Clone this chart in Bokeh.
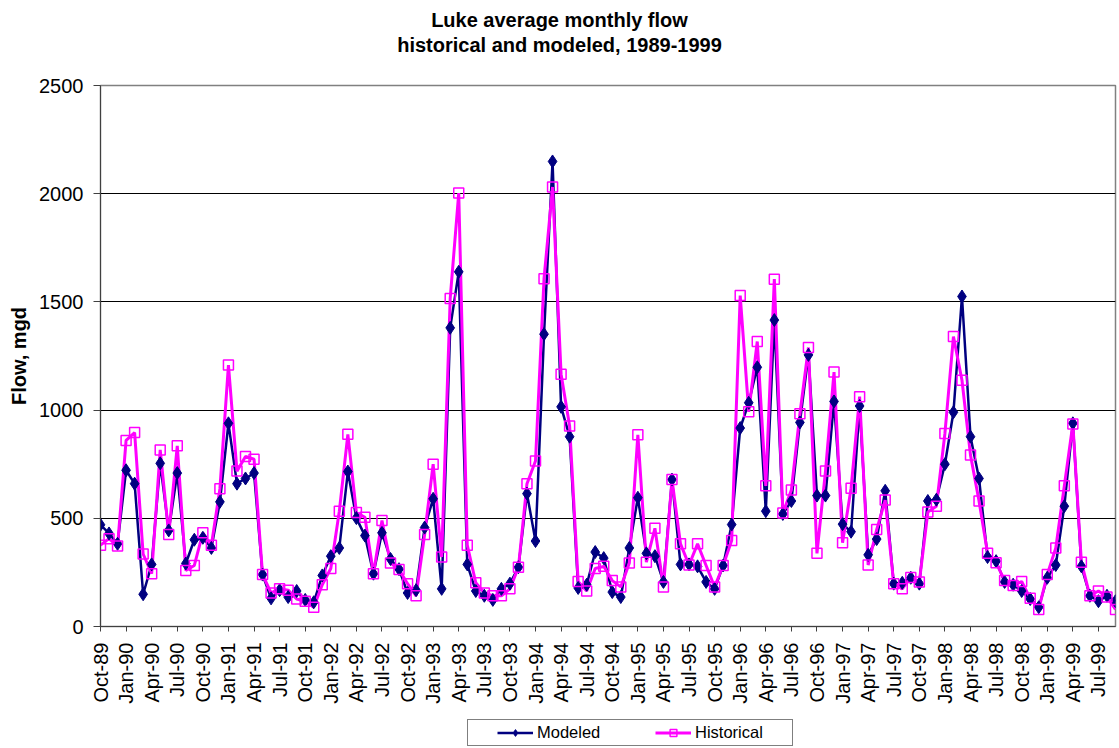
import math
from bokeh.plotting import figure
from bokeh.layouts import column
from bokeh.models import Range1d, FixedTicker, Legend, LegendItem, Label
from bokeh.embed import file_html
from bokeh.resources import INLINE

# ---- data ----
tick_labels = [
    "Oct-89", "Jan-90", "Apr-90", "Jul-90", "Oct-90", "Jan-91", "Apr-91", "Jul-91",
    "Oct-91", "Jan-92", "Apr-92", "Jul-92", "Oct-92", "Jan-93", "Apr-93", "Jul-93",
    "Oct-93", "Jan-94", "Apr-94", "Jul-94", "Oct-94", "Jan-95", "Apr-95", "Jul-95",
    "Oct-95", "Jan-96", "Apr-96", "Jul-96", "Oct-96", "Jan-97", "Apr-97", "Jul-97",
    "Oct-97", "Jan-98", "Apr-98", "Jul-98", "Oct-98", "Jan-99", "Apr-99", "Jul-99",
]

modeled = [
    470, 430, 382, 722, 660, 149, 287, 754, 444, 709, 291, 401, 410, 363, 576, 939, 660, 684,
    709, 240, 130, 168, 136, 164, 123, 112, 236, 325, 363, 716, 501, 420, 244, 433, 312, 265,
    155, 168, 457, 590, 174, 1380, 1639, 287, 164, 142, 123, 174, 198, 274, 614, 395, 1351, 2149,
    1015, 877, 178, 193, 344, 316, 159, 136, 363, 595, 338, 325, 206, 679, 287, 287, 278,
    206, 174, 282, 471, 917, 1034, 1198, 533, 1416, 520, 580, 943, 1255, 605, 605, 1040, 473, 438,
    1019, 331, 404, 627, 198, 202, 225, 198, 580, 586, 750, 990, 1525, 877, 684, 321, 302,
    206, 193, 164, 127, 89, 225, 284, 556, 939, 278, 142, 117, 142, 117,
]

historical = [
    376, 406, 372, 860, 896, 335, 244, 816, 425, 835, 259, 282, 433, 376, 637, 1208, 718, 786,
    773, 240, 155, 174, 168, 127, 117, 89, 193, 268, 533, 888, 527, 505, 244, 490, 293, 263,
    198, 142, 425, 750, 321, 1516, 2003, 376, 202, 155, 142, 142, 174, 274, 660, 765, 1607, 2031,
    1166, 926, 208, 164, 268, 278, 212, 183, 293, 886, 297, 454, 183, 679, 382, 284, 382,
    282, 183, 282, 397, 1529, 992, 1317, 650, 1605, 524, 631, 983, 1289, 338, 718, 1176, 387, 639,
    1062, 284, 448, 584, 198, 174, 227, 206, 529, 556, 892, 1340, 1138, 792, 580, 338, 295,
    212, 189, 208, 130, 79, 240, 363, 650, 936, 297, 142, 164, 136, 79,
]

y_ticks = [0, 500, 1000, 1500, 2000, 2500]
title_lines = ["Luke average monthly flow", "historical and modeled, 1989-1999"]

FONT = "Liberation Sans"
NAVY = "#000080"
MAGENTA = "#FF00FF"

x = list(range(len(modeled)))


def strip(height):
    f = figure(
        width=1119, height=height, output_backend="svg", toolbar_location=None,
        x_axis_type=None, y_axis_type=None, min_border=0,
        x_range=Range1d(0, 1), y_range=Range1d(0, 1),
    )
    f.outline_line_color = None
    f.background_fill_color = "white"
    f.border_fill_color = "white"
    f.grid.visible = False
    return f


# ---- title strip ----
tf = strip(60)
for txt, yy in zip(title_lines, [41, 15.5]):
    tf.add_layout(Label(
        x=459, y=yy, x_units="screen", y_units="screen", text=txt,
        text_align="center", text_baseline="alphabetic",
        text_font=FONT, text_font_size="20px", text_font_style="bold", text_color="black",
    ))

# ---- main chart ----
p = figure(
    width=1119, height=656,
    output_backend="svg", toolbar_location=None,
    x_range=Range1d(0, len(modeled) - 1), y_range=Range1d(y_ticks[0], y_ticks[-1]),
    min_border_left=100, min_border_right=4, min_border_top=25, min_border_bottom=90,
)
p.background_fill_color = "white"
p.border_fill_color = "white"
p.outline_line_color = "#808080"
p.outline_line_width = 1.5

p.xaxis.ticker = FixedTicker(ticks=[i * 3 for i in range(len(tick_labels))])
p.xaxis.major_label_overrides = {i * 3: lbl for i, lbl in enumerate(tick_labels)}
p.xaxis.major_label_orientation = math.pi / 2
p.xaxis.minor_tick_line_color = None
p.xaxis.major_tick_out = 5
p.xaxis.major_tick_in = 0
p.xaxis.major_label_standoff = 11
p.xaxis.major_label_text_font = FONT
p.xaxis.major_label_text_font_size = "20px"
p.xaxis.major_label_text_color = "black"
p.xaxis.axis_line_color = "#404040"
p.xaxis.major_tick_line_color = "#404040"

p.yaxis.ticker = FixedTicker(ticks=y_ticks)
p.yaxis.minor_tick_line_color = None
p.yaxis.major_tick_out = 7
p.yaxis.major_tick_in = 0
p.yaxis.major_label_standoff = 10
p.yaxis.major_label_text_font = FONT
p.yaxis.major_label_text_font_size = "20px"
p.yaxis.major_label_text_color = "black"
p.yaxis.axis_line_color = "#404040"
p.yaxis.major_tick_line_color = "#404040"
p.yaxis.axis_label = "Flow, mgd"
p.yaxis.axis_label_text_font = FONT
p.yaxis.axis_label_text_font_size = "20px"
p.yaxis.axis_label_text_font_style = "bold"
p.yaxis.axis_label_text_color = "black"
p.yaxis.axis_label_standoff = 6

p.xgrid.visible = False
p.ygrid.ticker = FixedTicker(ticks=y_ticks[1:-1])
p.ygrid.grid_line_color = "black"
p.ygrid.grid_line_width = 1

line_m = dict(line_color=NAVY, line_width=2.5)
line_h = dict(line_color=MAGENTA, line_width=3)
mark_m = dict(marker="diamond", size=13, fill_color=NAVY, line_color=NAVY)
mark_h = dict(marker="square", size=10, line_color=MAGENTA, fill_color="white",
              fill_alpha=0, line_width=1.5)

p.line(x, modeled, **line_m)
p.line(x, historical, **line_h)
p.scatter(x, modeled, **mark_m)
p.scatter(x, historical, **mark_h)

# ---- legend strip (same series, drawn outside its visible range) ----
lf = strip(32)
lm = lf.line(x, modeled, **line_m)
lh = lf.line(x, historical, **line_h)
sm = lf.scatter(x, modeled, **mark_m)
sh = lf.scatter(x, historical, **mark_h)

legend = Legend(
    items=[LegendItem(label="Modeled", renderers=[lm, sm]),
           LegendItem(label="Historical", renderers=[lh, sh])],
    orientation="horizontal", location=(367, 2),
    padding=3, spacing=24, margin=0,
    glyph_width=36, glyph_height=17, label_height=17, label_width=94, label_standoff=4,
    border_line_color="black", border_line_width=1,
    background_fill_color="white", background_fill_alpha=1,
    label_text_font=FONT, label_text_font_size="16.5px", label_text_color="black",
    title=" ", title_location="left", title_standoff=15, title_text_font_size="10px",
)
lf.add_layout(legend)

layout = column(tf, p, lf, spacing=0)
open("out.html", "w").write(file_html(layout, INLINE))
